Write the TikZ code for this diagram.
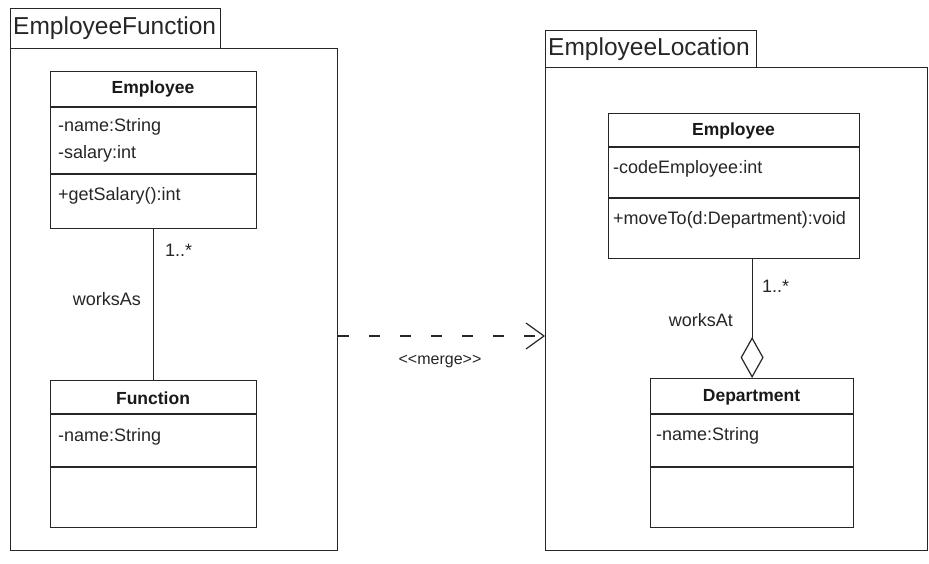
\documentclass[tikz,border=0pt]{standalone}
\usepackage{fontspec}
\setmainfont{Liberation Sans}
\usetikzlibrary{arrows.meta}
\begin{document}
\begin{tikzpicture}[x=1pt,y=-1pt,
  ln/.style={line width=1.2pt, draw=black!85},
  box/.style={ln, rectangle, inner sep=0pt, anchor=north west},
  pkgtitle/.style={font=\fontsize{24.5}{27}\selectfont, text=black!85, inner sep=0pt, anchor=west},
  cname/.style={font=\fontsize{17.5}{20}\selectfont\bfseries, text=black!90, inner sep=0pt},
  attr/.style={font=\fontsize{18}{21}\selectfont, text=black!85, inner sep=0pt, anchor=west},
  lbl/.style={font=\fontsize{18}{21}\selectfont, text=black!85, inner sep=0pt},
]
\useasboundingbox[fill=white] (0,0) rectangle (929,563);

% ---------- left package ----------
\node[box, minimum width=210pt, minimum height=40pt] (tabL) at (10,8) {};
\node[pkgtitle] (tabLtxt) at (13,28) {EmployeeFunction};
\node[box, minimum width=327pt, minimum height=502pt] (pkgL) at (10,48) {};

% Employee (left)
\node[box, minimum width=206pt, minimum height=157pt] (e1) at (50,71) {};
\draw[ln] (e1.west |- 0,107) -- (e1.east |- 0,107);
\draw[ln] (e1.west |- 0,174) -- (e1.east |- 0,174);
\node[cname] (e1n) at (153,89) {Employee};
\node[attr] (e1a1) at (58,127) {-name:String};
\node[attr] (e1a2) at (58,154) {-salary:int};
\node[attr] (e1o1) at (58,196) {+getSalary():int};

% Function
\node[box, minimum width=206pt, minimum height=147pt] (f1) at (50,380) {};
\draw[ln] (f1.west |- 0,414) -- (f1.east |- 0,414);
\draw[ln] (f1.west |- 0,467) -- (f1.east |- 0,467);
\node[cname] (f1n) at (153,398) {Function};
\node[attr] (f1a1) at (58,437) {-name:String};

\draw[ln] (e1.south) -- (f1.north);
\node[lbl, anchor=west] (m1) at (165,250) {1..*};
\node[lbl, anchor=east] (r1) at (141,299) {worksAs};

% ---------- right package ----------
\node[box, minimum width=211pt, minimum height=37pt] (tabR) at (545,30) {};
\node[pkgtitle] (tabRtxt) at (548,49) {EmployeeLocation};
\node[box, minimum width=382pt, minimum height=483pt] (pkgR) at (545,67) {};

% Employee (right)
\node[box, minimum width=251pt, minimum height=145pt] (e2) at (608,113) {};
\draw[ln] (e2.west |- 0,147) -- (e2.east |- 0,147);
\draw[ln] (e2.west |- 0,198) -- (e2.east |- 0,198);
\node[cname] (e2n) at (733.5,131) {Employee};
\node[attr] (e2a1) at (613,169) {-codeEmployee:int};
\node[attr] (e2o1) at (613,220) {+moveTo(d:Department):void};

% Department
\node[box, minimum width=203pt, minimum height=149pt] (d2) at (650,378) {};
\draw[ln] (d2.west |- 0,414) -- (d2.east |- 0,414);
\draw[ln] (d2.west |- 0,467) -- (d2.east |- 0,467);
\node[cname] (d2n) at (751.5,397) {Department};
\node[attr] (d2a1) at (656,436) {-name:String};

\draw[ln, -{Diamond[open, length=41pt, width=23pt, line width=1.2pt]}] (e2.south -| d2.north) -- (d2.north);
\node[lbl, anchor=west] (m2) at (762,286) {1..*};
\node[lbl, anchor=east] (r2) at (733,320) {worksAt};

% ---------- merge ----------
\draw[ln, dash pattern=on 11pt off 20pt, -{Straight Barb[length=18pt, width=26pt, line width=1.2pt]}]
  (pkgL.east |- 0,336) -- (pkgR.west |- 0,336);
\node[lbl, font=\fontsize{16}{19}\selectfont] (mg) at (440,361) {{<}{<}merge{>}{>}};
\end{tikzpicture}
\end{document}
